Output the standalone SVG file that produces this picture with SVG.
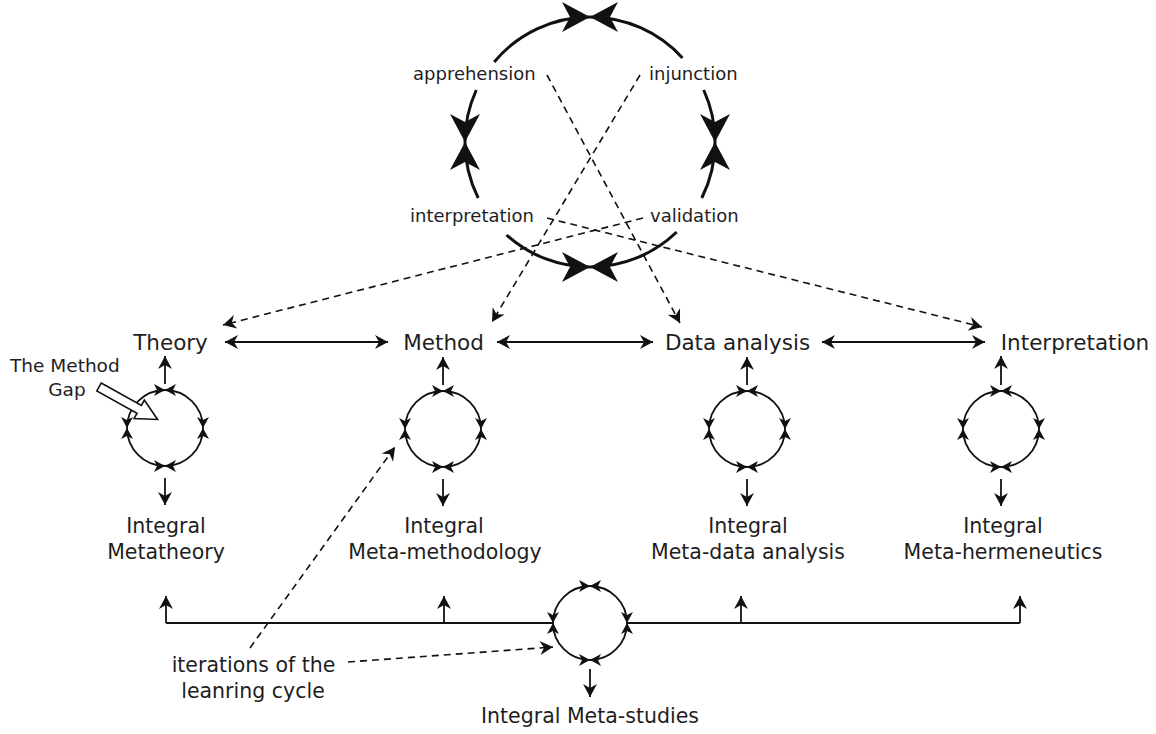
<svg xmlns="http://www.w3.org/2000/svg" width="1156" height="734" viewBox="0 0 1156 734">
<style>
text{font-family:"DejaVu Sans","Open Sans",sans-serif;fill:#1e1e1e}
.lbl{font-size:21.5px}
.int{font-size:20.5px}
.top{font-size:18px}
.big{fill:none;stroke:#111;stroke-width:3;marker-end:url(#bigHead)}
.sc{fill:none;stroke:#111;stroke-width:1.8;marker-start:url(#smallHead);marker-end:url(#smallHead)}
.ar{fill:none;stroke:#111;stroke-width:1.8;marker-end:url(#head)}
.dar{fill:none;stroke:#111;stroke-width:1.8;marker-start:url(#head);marker-end:url(#head)}
.ln{fill:none;stroke:#111;stroke-width:1.8}
.dash{fill:none;stroke:#111;stroke-width:1.6;stroke-dasharray:7 5;marker-end:url(#head)}
</style>
<defs>
<marker id="bigHead" markerUnits="userSpaceOnUse" viewBox="-30 -16 32 32" refX="0" refY="0" markerWidth="32" markerHeight="32" orient="auto-start-reverse" overflow="visible">
<path d="M0,0 L-28,-15 L-20,0 L-28,15 Z" fill="#111"/>
</marker>
<marker id="smallHead" markerUnits="userSpaceOnUse" viewBox="-13 -7 14 14" refX="0" refY="0" markerWidth="14" markerHeight="14" orient="auto-start-reverse" overflow="visible">
<path d="M0,0 L-11,-6 L-8,0 L-11,6 Z" fill="#111"/>
</marker>
<marker id="head" markerUnits="userSpaceOnUse" viewBox="-14 -8 16 16" refX="0" refY="0" markerWidth="16" markerHeight="16" orient="auto-start-reverse" overflow="visible">
<path d="M0,0 L-13,-7 L-9,0 L-13,7 Z" fill="#111"/>
</marker>
</defs>

<g id="learning-cycle">
<path class="big" d="M494.2,62 A125,125 0 0 1 590,17"/>
<path class="big" d="M476.3,90 A125,125 0 0 0 465,142"/>
<path class="big" d="M682.5,58 A125,125 0 0 0 590,17"/>
<path class="big" d="M703.7,90 A125,125 0 0 1 715,142"/>
<path class="big" d="M478.2,198 A125,125 0 0 1 465,142"/>
<path class="big" d="M506.5,235 A125,125 0 0 0 590,267"/>
<path class="big" d="M701.8,198 A125,125 0 0 0 715,142"/>
<path class="big" d="M676.7,232 A125,125 0 0 1 590,267"/>
<text class="top" x="413" y="80">apprehension</text>
<text class="top" x="649" y="80">injunction</text>
<text class="top" x="410" y="222">interpretation</text>
<text class="top" x="650" y="222">validation</text>
</g>

<g id="theory">
<text class="lbl" x="170.5" y="350" text-anchor="middle">Theory</text>
<path class="sc" d="M165,390 A38,38 0 0 1 203,428"/>
<path class="sc" d="M203,428 A38,38 0 0 1 165,466"/>
<path class="sc" d="M165,466 A38,38 0 0 1 127,428"/>
<path class="sc" d="M127,428 A38,38 0 0 1 165,390"/>
<path class="ar" d="M165,384 L165,356"/>
<path class="ar" d="M165,478 L165,505"/>
<text class="int" x="166" y="533" text-anchor="middle">Integral</text>
<text class="int" x="166" y="559" text-anchor="middle">Metatheory</text>
</g>

<g id="method">
<text class="lbl" x="443.5" y="350" text-anchor="middle">Method</text>
<path class="sc" d="M443,391 A38,38 0 0 1 481,429"/>
<path class="sc" d="M481,429 A38,38 0 0 1 443,467"/>
<path class="sc" d="M443,467 A38,38 0 0 1 405,429"/>
<path class="sc" d="M405,429 A38,38 0 0 1 443,391"/>
<path class="ar" d="M443,385 L443,357"/>
<path class="ar" d="M443,479 L443,506"/>
<text class="int" x="444" y="533" text-anchor="middle">Integral</text>
<text class="int" x="445" y="559" text-anchor="middle">Meta-methodology</text>
</g>

<g id="data-analysis">
<text class="lbl" x="737.5" y="350" text-anchor="middle">Data analysis</text>
<path class="sc" d="M747,391 A38,38 0 0 1 785,429"/>
<path class="sc" d="M785,429 A38,38 0 0 1 747,467"/>
<path class="sc" d="M747,467 A38,38 0 0 1 709,429"/>
<path class="sc" d="M709,429 A38,38 0 0 1 747,391"/>
<path class="ar" d="M747,385 L747,357"/>
<path class="ar" d="M747,479 L747,506"/>
<text class="int" x="748" y="533" text-anchor="middle">Integral</text>
<text class="int" x="748" y="559" text-anchor="middle">Meta-data analysis</text>
</g>

<g id="interpretation">
<text class="lbl" x="1075" y="350" text-anchor="middle">Interpretation</text>
<path class="sc" d="M1001,391 A38,38 0 0 1 1039,429"/>
<path class="sc" d="M1039,429 A38,38 0 0 1 1001,467"/>
<path class="sc" d="M1001,467 A38,38 0 0 1 963,429"/>
<path class="sc" d="M963,429 A38,38 0 0 1 1001,391"/>
<path class="ar" d="M1001,385 L1001,356"/>
<path class="ar" d="M1001,479 L1001,506"/>
<text class="int" x="1003" y="533" text-anchor="middle">Integral</text>
<text class="int" x="1003" y="559" text-anchor="middle">Meta-hermeneutics</text>
</g>

<g id="meta-studies">
<path class="sc" d="M590,586 A37,37 0 0 1 627,623"/>
<path class="sc" d="M627,623 A37,37 0 0 1 590,660"/>
<path class="sc" d="M590,660 A37,37 0 0 1 553,623"/>
<path class="sc" d="M553,623 A37,37 0 0 1 590,586"/>
<path class="ar" d="M590,669 L590,697"/>
<text class="int" x="590" y="723" text-anchor="middle">Integral Meta-studies</text>
</g>

<g id="method-gap">
<text x="10" y="372" style="font-size:18.5px">The Method</text>
<text x="67" y="396" text-anchor="middle" style="font-size:18.5px">Gap</text>
<polygon transform="translate(99,387) rotate(29)" points="0,-4.5 46,-4.5 46,-10.5 67,0 46,10.5 46,4.5 0,4.5" fill="#fff" stroke="#111" stroke-width="1.6" stroke-linejoin="miter"/>
</g>

<g id="iterations-label">
<text class="int" x="253.5" y="672" text-anchor="middle">iterations of the</text>
<text class="int" x="253" y="698" text-anchor="middle">leanring cycle</text>
</g>

<g id="connectors">
<path class="dar" d="M225,342 L388,342"/>
<path class="dar" d="M497,342 L653,342"/>
<path class="dar" d="M822,342 L985,342"/>
<path class="dash" d="M547,75 L680,323"/>
<path class="dash" d="M640,75 L492,322"/>
<path class="dash" d="M547,218 L982,327"/>
<path class="dash" d="M643,218 L223,325"/>
<path class="dash" d="M250,648 L395,447"/>
<path class="dash" d="M348,662 L553,647"/>
<path class="ln" d="M166,623 L553,623"/>
<path class="ln" d="M627,623 L1020,623"/>
<path class="ar" d="M166,623 L166,596"/>
<path class="ar" d="M444,623 L444,596"/>
<path class="ar" d="M741,623 L741,596"/>
<path class="ar" d="M1020,623 L1020,596"/>
</g>
</svg>
